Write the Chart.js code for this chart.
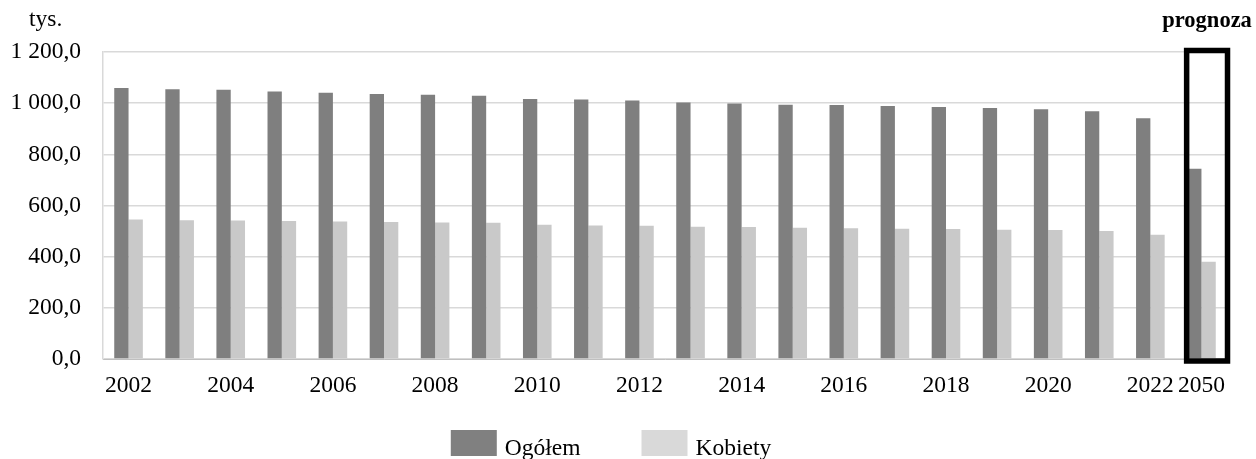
<!DOCTYPE html>
<html>
<head>
<meta charset="utf-8">
<script src="https://cdn.jsdelivr.net/npm/chart.js@4.4.1/dist/chart.umd.min.js"></script>
<style>
html,body{margin:0;padding:0;background:#fff;}
#wrap{width:1256px;height:459px;position:relative;}
</style>
</head>
<body>
<div id="wrap"><canvas id="c" width="1256" height="459"></canvas></div>
<script>
const years = ['2002','2003','2004','2005','2006','2007','2008','2009','2010','2011','2012','2013','2014','2015','2016','2017','2018','2019','2020','2021','2022','2050'];
const ogolem = [1059, 1054, 1052, 1046, 1041, 1036, 1033, 1029, 1016, 1014, 1010, 1003, 999, 994, 993, 989, 985, 981, 976, 968, 941, 744];
const kobiety = [545, 542, 541, 539.5, 537, 535.5, 534, 533, 525, 522, 521, 517, 516, 513, 511, 509, 508, 505.5, 504, 500, 486, 380];
const seriesNames = ['Ogółem', 'Kobiety'];
const unitLabel = 'tys.';
const forecastLabel = 'prognoza';
const forecastCategory = '2050';

const FONT = "'Liberation Serif', 'Times New Roman', serif";

function fmt(v){
  const s = Number(v).toFixed(1);
  let [ip, dp] = s.split('.');
  ip = ip.replace(/\B(?=(\d{3})+(?!\d))/g, ' ');
  return ip + ',' + dp;
}

const extras = {
  id: 'extras',
  afterDraw(chart){
    const ctx = chart.ctx;
    const x = chart.scales.x, y = chart.scales.y;
    const idx = years.indexOf(forecastCategory);
    const cx = x.getPixelForValue(idx);
    const cw = x.width / years.length;
    const left = cx - 0.29*cw, right = cx + 0.51*cw;
    const top = y.top - 1.5, bottom = y.bottom + 2;
    ctx.save();
    ctx.strokeStyle = '#000';
    ctx.lineWidth = 5.5;
    ctx.strokeRect(left, top, right-left, bottom-top);
    ctx.fillStyle = '#000';
    ctx.font = 'bold 22.5px ' + FONT;
    ctx.textAlign = 'center';
    ctx.textBaseline = 'alphabetic';
    ctx.fillText(forecastLabel, (left+right)/2, 27);
    ctx.font = '23.5px ' + FONT;
    ctx.textAlign = 'left';
    ctx.fillText(unitLabel, 29, 26);
    // legend
    const legendColors = ['#808080', '#d9d9d9'];
    const boxW = 46, boxH = 26, gapText = 8, gapItem = 61;
    const widths = seriesNames.map(n => boxW + gapText + ctx.measureText(n).width);
    const total = widths.reduce((a,b)=>a+b,0) + gapItem*(widths.length-1);
    let lx = 611 - total/2;
    seriesNames.forEach((n,i)=>{
      ctx.fillStyle = legendColors[i];
      ctx.fillRect(lx, 430, boxW, boxH);
      ctx.fillStyle = '#000';
      ctx.fillText(n, lx + boxW + gapText, 455);
      lx += widths[i] + gapItem;
    });
    ctx.restore();
  }
};

new Chart(document.getElementById('c'), {
  type: 'bar',
  data: {
    labels: years,
    datasets: [
      {label: seriesNames[0], data: ogolem, backgroundColor: '#7f7f7f', borderWidth: 0},
      {label: seriesNames[1], data: kobiety, backgroundColor: '#c9c9c9', borderWidth: 0}
    ]
  },
  options: {
    responsive: false,
    animation: false,
    devicePixelRatio: 1,
    layout: {padding: {top: 52, right: 29, bottom: 50, left: 0}},
    datasets: {bar: {categoryPercentage: 0.56, barPercentage: 1.0}},
    plugins: {legend: {display: false}, tooltip: {enabled: false}},
    scales: {
      x: {
        grid: {display: false, drawTicks: false},
        border: {display: true, color: '#bfbfbf', width: 1},
        ticks: {
          autoSkip: false, maxRotation: 0, minRotation: 0, padding: 13,
          color: '#000', font: {family: FONT, size: 23.5},
          callback: function(v, i){ const l = years[i]; return (i % 2 === 0 || l === forecastCategory) ? l : ''; }
        },
        afterFit(s){ s.height = 50; }
      },
      y: {
        min: 0, max: 1200,
        grid: {color: '#d9d9d9', lineWidth: 1.5, drawTicks: false},
        border: {display: true, color: '#d9d9d9', width: 1.5},
        ticks: {stepSize: 200, padding: 22, color: '#000', font: {family: FONT, size: 23.5},
          callback: v => fmt(v)},
        afterFit(s){ s.width = 103; }
      }
    }
  },
  plugins: [extras]
});
</script>
</body>
</html>
